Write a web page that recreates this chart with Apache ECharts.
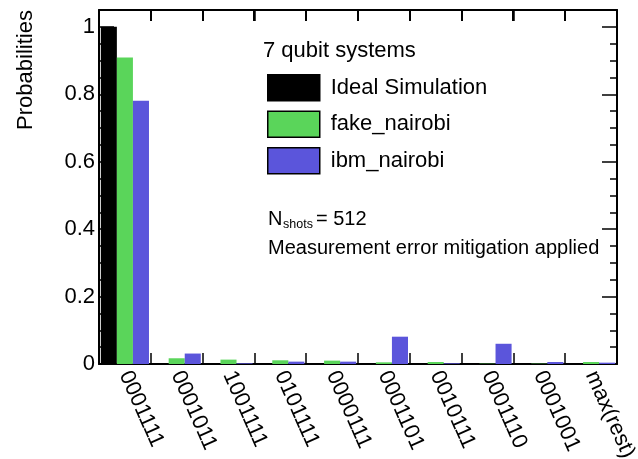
<!DOCTYPE html>
<html>
<head>
<meta charset="utf-8">
<script src="https://cdn.jsdelivr.net/npm/echarts@6/dist/echarts.min.js"></script>
<style>
    html, body { margin: 0; padding: 0; background: #fff; }
    #chart { width: 638px; height: 459px; }
</style>
</head>
<body>
<div id="chart"></div>
<script>
const categories = ["0001111", "0001011", "1001111", "0101111", "0000111", "0001101", "0010111", "0001110", "0001001", "max(rest)"];
const idealSim = [1, 0, 0, 0, 0, 0, 0, 0, 0, 0];
const fakeNairobi = [0.909, 0.017, 0.013, 0.011, 0.010, 0.005, 0.006, 0.001, 0.001, 0.006];
const ibmNairobi = [0.781, 0.031, 0.002, 0.007, 0.007, 0.081, 0.002, 0.060, 0.006, 0.004];
const yMax = 1.05;

const font = "'Liberation Sans', Arial, Helvetica, sans-serif";
const gridBox = { left: 99, right: 21, top: 10, bottom: 95 };
const frame = () => ({ show: true, onZero: false, lineStyle: { color: "#000", width: 2 } });
const xTicks = () => ({ show: true, inside: true, interval: 0, length: 11, lineStyle: { color: "#000", width: 1.5 } });

// y axes: major ticks with labels + short minor ticks, on both sides
const yAxisFor = (position, interval, tickLen, labels) => ({
    type: "value",
    position: position,
    min: 0,
    max: yMax,
    interval: interval,
    axisLine: labels !== null ? frame() : { show: false, onZero: false },
    axisTick: { show: true, inside: true, length: tickLen, lineStyle: { color: "#000", width: 1.5 } },
    axisLabel: labels ? {
        show: true, margin: 4, fontSize: 22, color: "#000", fontFamily: font,
        showMaxLabel: false, formatter: (v) => String(+v.toFixed(2))
    } : { show: false },
    splitLine: { show: false }
});

const barSeries = (name, data, color) => ({
    name: name,
    type: "bar",
    data: data,
    barGap: "0%",
    barCategoryGap: "7%",
    itemStyle: { color: color },
    silent: true
});

const textGraphics = [
    { type: "text", x: 25.5, y: 70, rotation: Math.PI / 2,
      style: { text: "Probabilities", fontSize: 22, fontFamily: font, fill: "#000", align: "center", verticalAlign: "middle" } },
    { type: "text", x: 263, y: 51,
      style: { text: "7 qubit systems", fontSize: 22, fontFamily: font, fill: "#000", align: "left", verticalAlign: "middle" } },
    { type: "text", x: 268, y: 219,
      style: { text: "N", fontSize: 20, fontFamily: font, fill: "#000", align: "left", verticalAlign: "middle" } },
    { type: "text", x: 283, y: 224.5,
      style: { text: "shots", fontSize: 12.5, fontFamily: font, fill: "#000", align: "left", verticalAlign: "middle" } },
    { type: "text", x: 316, y: 219,
      style: { text: "= 512", fontSize: 20, fontFamily: font, fill: "#000", align: "left", verticalAlign: "middle" } },
    { type: "text", x: 268, y: 248,
      style: { text: "Measurement error mitigation applied", fontSize: 20, fontFamily: font, fill: "#000", align: "left", verticalAlign: "middle" } }
];

// top frame ticks at the category boundaries
const topTicks = (chartWidth) => {
    const band = (chartWidth - gridBox.left - gridBox.right) / categories.length;
    const ticks = [];
    for (let i = 1; i < categories.length; i++) {
        const x = Math.round(gridBox.left + band * i);
        ticks.push({ type: "rect", silent: true, z: 100,
            shape: { x: x - 1, y: gridBox.top, width: 2, height: 11 },
            style: { fill: "#000" } });
    }
    return ticks;
};

const buildOption = (chartWidth) => ({
    animation: false,
    backgroundColor: "#fff",
    textStyle: { fontFamily: font },
    grid: Object.assign({ containLabel: false, outerBoundsMode: "none" }, gridBox),
    legend: {
        left: 267, top: 74, orient: "vertical", padding: 0,
        itemWidth: 52, itemHeight: 26, itemGap: 9,
        icon: "rect", selectedMode: false,
        itemStyle: { borderColor: "#000", borderWidth: 1.5 },
        textStyle: { fontSize: 22, color: "#000", fontFamily: font, padding: [0, 0, 0, 6] },
        data: ["Ideal Simulation", "fake_nairobi", "ibm_nairobi"]
    },
    xAxis: [
        {
            type: "category", data: categories, position: "bottom",
            axisLine: frame(),
            axisTick: xTicks(),
            axisLabel: { interval: 0, rotate: -66, margin: 8, fontSize: 22, color: "#000", fontFamily: font }
        },
        {
            // top frame line
            type: "value", position: "top",
            min: 0, max: categories.length, interval: 1,
            axisLine: frame(),
            axisTick: { show: true, inside: true, length: 11, lineStyle: { color: "#000", width: 1.5 } },
            axisLabel: { show: false },
            splitLine: { show: false }
        }
    ],
    yAxis: [
        yAxisFor("left", 0.2, 15, true),
        yAxisFor("left", 0.05, 7, null),
        yAxisFor("right", 0.2, 15, false),
        yAxisFor("right", 0.05, 7, null)
    ],
    series: [
        barSeries("Ideal Simulation", idealSim, "#000000"),
        barSeries("fake_nairobi", fakeNairobi, "#5AD55A"),
        barSeries("ibm_nairobi", ibmNairobi, "#5B55DB")
    ],
    graphic: textGraphics.concat(topTicks(chartWidth))
});

window.addEventListener("load", () => {
    const el = document.getElementById("chart");
    const myChart = echarts.init(el, null, { renderer: "canvas" });
    myChart.setOption(buildOption(myChart.getWidth()));
});
</script>
</body>
</html>
